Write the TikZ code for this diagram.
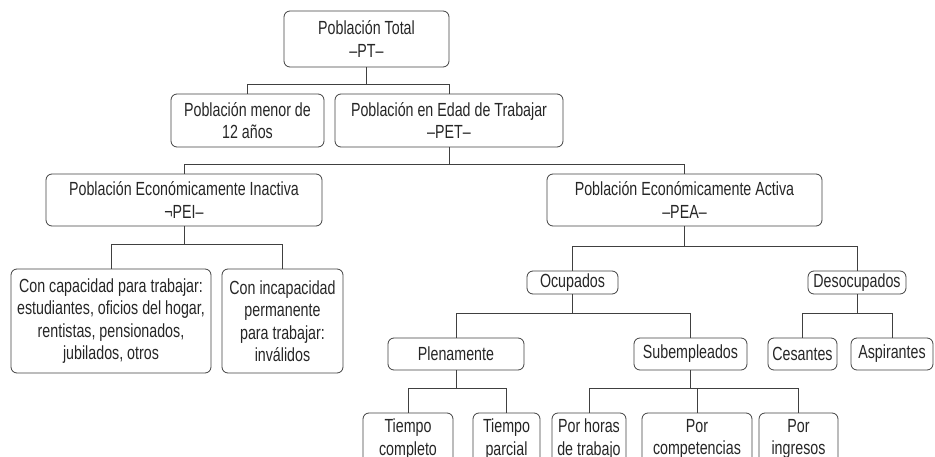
\documentclass[tikz,border=0pt]{standalone}
\usepackage{fontspec}
\setmainfont[FakeStretch=0.75]{Liberation Sans}
\tikzset{
  box/.style={draw=black!75, line width=0.8pt, rounded corners=6pt, align=center,
    inner sep=0pt, text=black!85, font=\fontsize{19}{22.5}\selectfont},
  link/.style={draw=black!75, line width=0.8pt}
}
\begin{document}
\begin{tikzpicture}[x=1pt,y=-1pt]
\useasboundingbox (0,0) rectangle (935,457);
\clip (0,0) rectangle (935,457);
\node[box, minimum width=165, minimum height=56] (pt) at (366.5,39) {Población Total\\–PT–};
\node[box, minimum width=153, minimum height=53] (menor) at (247.5,120.5) {Población menor de\\12 años};
\node[box, minimum width=228, minimum height=53] (pet) at (449,120.5) {Población en Edad de Trabajar\\–PET–};
\node[box, minimum width=276, minimum height=52] (pei) at (184,200) {Población Económicamente Inactiva\\¬PEI–};
\node[box, minimum width=275, minimum height=52] (pea) at (684.5,200) {Población Económicamente Activa\\–PEA–};
\node[box, minimum width=200, minimum height=104] (capaz) at (111,321) {Con capacidad para trabajar:\\estudiantes, oficios del hogar,\\rentistas, pensionados,\\jubilados, otros};
\node[box, minimum width=121, minimum height=104] (incapaz) at (282.5,321) {Con incapacidad\\permanente\\para trabajar:\\inválidos};
\node[box, minimum width=91, minimum height=23] (ocu) at (572.5,282.5) {Ocupados};
\node[box, minimum width=98, minimum height=23] (deso) at (857,282.5) {Desocupados};
\node[box, minimum width=136, minimum height=32] (plena) at (456,354) {Plenamente};
\node[box, minimum width=113, minimum height=32] (sub) at (690.5,354) {Subempleados};
\node[box, minimum width=69, minimum height=32] (ces) at (802.5,354) {Cesantes};
\node[box, minimum width=82, minimum height=32] (asp) at (892,354) {Aspirantes};
\node[box, minimum width=90, minimum height=52] (tcomp) at (408,439) {Tiempo\\completo};
\node[box, minimum width=67, minimum height=52] (tparc) at (506.5,439) {Tiempo\\parcial};
\node[box, minimum width=74, minimum height=52] (phoras) at (589,439) {Por horas\\de trabajo};
\node[box, minimum width=110, minimum height=52] (pcomp) at (697,439) {Por\\competencias};
\node[box, minimum width=79, minimum height=52] (pingr) at (798.5,439) {Por\\ingresos};
% ramas
\path[link] (pt.south) -- ++(0,17) -| (menor.north);
\path[link] (pt.south) -- ++(0,17) -| (pet.north);
\path[link] (pet.south) -- ++(0,17) -| (pei.north);
\path[link] (pet.south) -- ++(0,17) -| (pea.north);
\path[link] (pei.south) -- ++(0,18) -| (capaz.north);
\path[link] (pei.south) -- ++(0,18) -| (incapaz.north);
\path[link] (pea.south) -- ++(0,20) -| (ocu.north);
\path[link] (pea.south) -- ++(0,20) -| (deso.north);
\path[link] (ocu.south) -- ++(0,19) -| (plena.north);
\path[link] (ocu.south) -- ++(0,19) -| (sub.north);
\path[link] (deso.south) -- ++(0,19) -| (ces.north);
\path[link] (deso.south) -- ++(0,19) -| (asp.north);
\path[link] (plena.south) -- ++(0,18) -| (tcomp.north);
\path[link] (plena.south) -- ++(0,18) -| (tparc.north);
\path[link] (sub.south) -- ++(0,18) -| (phoras.north);
\path[link] (sub.south) -- ++(0,18) -| (pcomp.north);
\path[link] (sub.south) -- ++(0,18) -| (pingr.north);
\end{tikzpicture}
\end{document}
